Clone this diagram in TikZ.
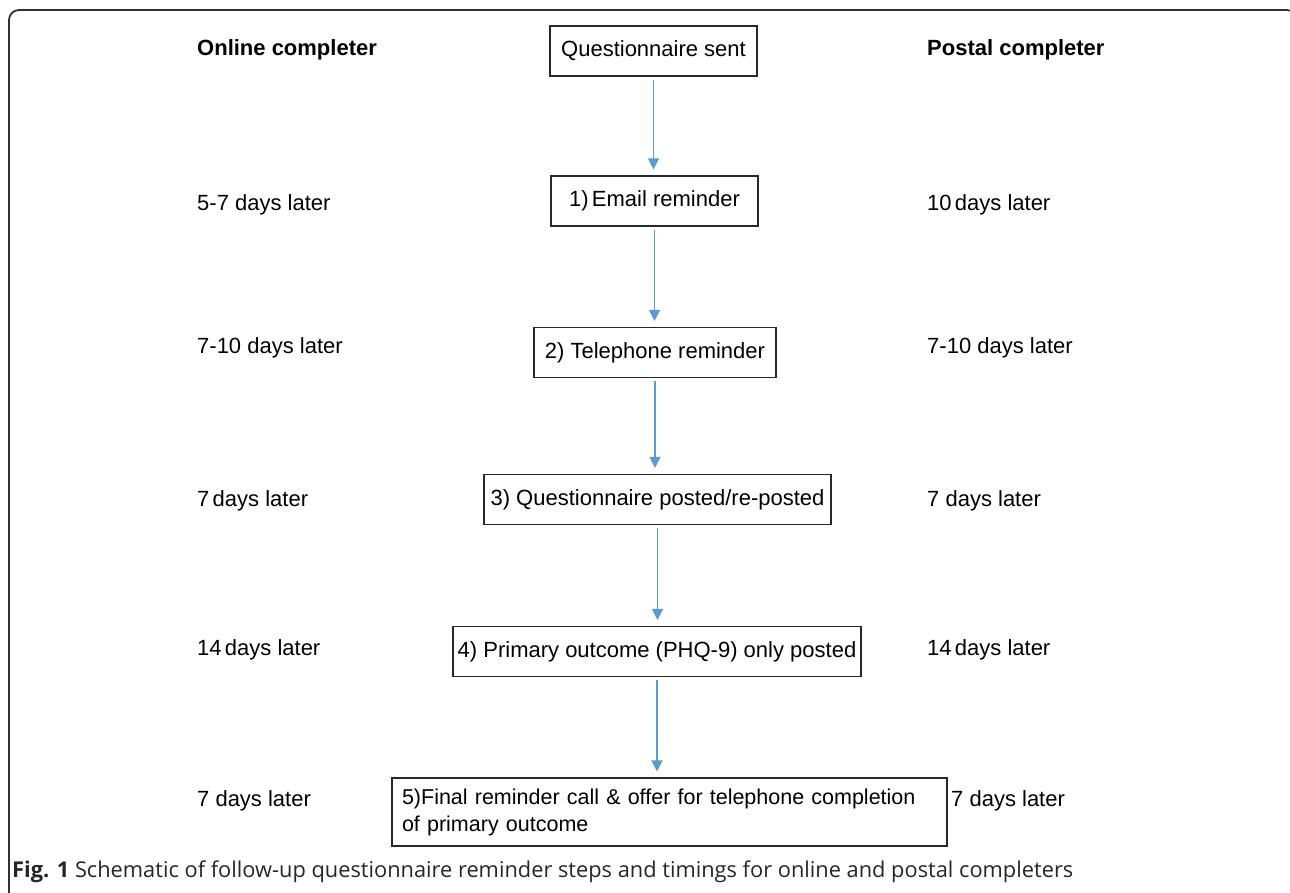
\documentclass[tikz,border=0pt]{standalone}
\usepackage{fontspec}
\setmainfont{Liberation Sans}
\newfontfamily\capfont{Open Sans}
\usetikzlibrary{arrows.meta,calc}
\definecolor{arrowblue}{RGB}{91,155,213}
\definecolor{framegray}{RGB}{50,50,50}
\definecolor{boxgray}{RGB}{40,40,40}
\begin{document}
\begin{tikzpicture}[x=1pt,y=-1pt,
  font=\fontsize{22}{27}\selectfont,
  stepbox/.style={draw=boxgray, line width=1.1pt, minimum height=50pt, inner sep=0pt, text height=16pt, text depth=4.5pt},
  label/.style={anchor=base west, inner sep=0pt},
  head/.style={anchor=base west, inner sep=0pt, font=\fontsize{22}{27}\selectfont\bfseries},
  flow/.style={draw=arrowblue, line width=1.2pt, -{Triangle[width=11pt,length=11pt]}, shorten <=3pt, shorten >=6pt}]
\useasboundingbox (0,0) rectangle (1290,892);
% frame
\draw[framegray, line width=1.8pt, rounded corners=10pt] (9,905) -- (9,10) -- (1297,10) -- (1297,905);
% boxes
\node[stepbox, minimum width=207pt] (q) at (653.5,51) {Questionnaire sent};
\node[stepbox, minimum width=207pt] (e) at (654.5,201) {1)\hspace{0.15em}Email reminder};
\node[stepbox, minimum width=242pt] (t) at (655,352.5) {2) Telephone reminder};
\node[stepbox, minimum width=347pt] (p) at (657.5,499.5) {3) Questionnaire posted/re-posted};
\node[stepbox, minimum width=408pt] (o) at (657,651.5) {4) Primary outcome (PHQ-9) only posted};
\node[draw=boxgray, line width=1.1pt, minimum width=555pt, minimum height=68pt, inner xsep=10pt, inner ysep=0pt, text width=535pt, align=left, font=\fontsize{21.5}{27}\selectfont] (f) at (669.5,812) {5)Final reminder call \& offer for telephone completion\\of primary outcome};
% arrows
\draw[flow] (q.south) -- (q.south |- e.north);
\draw[flow] (e.south) -- (e.south |- t.north);
\draw[flow] (t.south) -- (t.south |- p.north);
\draw[flow] (p.south) -- (p.south |- o.north);
\draw[flow] (o.south) -- (o.south |- f.north);
% headers
\node[head] (hl) at (197,55) {Online completer};
\node[head] (hr) at (927,55) {Postal completer};
% left labels
\node[label] (l1) at (197,210) {5-7 days later};
\node[label] (l2) at (197,353) {7-10 days later};
\node[label] (l3) at (197,506) {7\hspace{0.15em}days later};
\node[label] (l4) at (197,655) {14\hspace{0.15em}days later};
\node[label] (l5) at (197,806) {7 days later};
% right labels
\node[label] (r1) at (927,210) {10\hspace{0.15em}days later};
\node[label] (r2) at (927,353) {7-10 days later};
\node[label] (r3) at (927,506) {7 days later};
\node[label] (r4) at (927,655) {14\hspace{0.15em}days later};
\node[label] (r5) at (951,806) {7 days later};
% caption
\node[anchor=base west, inner sep=0pt, text=black!85, font=\capfont\fontsize{21.8}{24}\selectfont] (cap) at (12,877) {\textbf{Fig. 1} Schematic of follow-up questionnaire reminder steps and timings for online and postal completers};
\end{tikzpicture}
\end{document}
